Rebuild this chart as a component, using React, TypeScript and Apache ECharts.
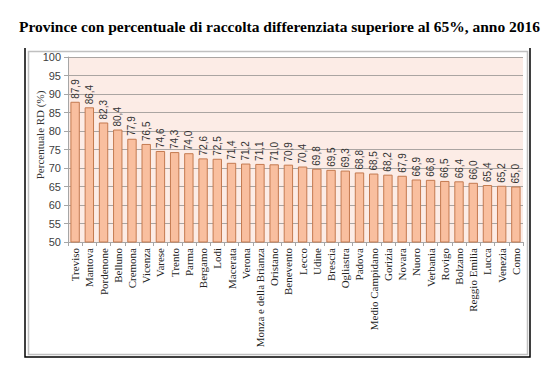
import React, { useEffect, useRef } from "react";
import * as echarts from "echarts";

const provinces = [
  "Treviso", "Mantova", "Pordenone", "Belluno", "Cremona", "Vicenza", "Varese", "Trento",
  "Parma", "Bergamo", "Lodi", "Macerata", "Verona", "Monza e della Brianza", "Oristano", "Benevento",
  "Lecco", "Udine", "Brescia", "Ogliastra", "Padova", "Medio Campidano", "Gorizia", "Novara",
  "Nuoro", "Verbania", "Rovigo", "Bolzano", "Reggio Emilia", "Lucca", "Venezia", "Como",
];
const rdValues = [
  87.9, 86.4, 82.3, 80.4, 77.9, 76.5, 74.6, 74.3,
  74.0, 72.6, 72.5, 71.4, 71.2, 71.1, 71.0, 70.9,
  70.4, 69.8, 69.5, 69.3, 68.8, 68.5, 68.2, 67.9,
  66.9, 66.8, 66.5, 66.4, 66.0, 65.4, 65.2, 65.0,
];
const titleText = "Province con percentuale di raccolta differenziata superiore al 65%, anno 2016";
const yAxisName = "Percentuale RD (%)";

export default function App() {
  const ref = useRef<HTMLDivElement>(null);
  useEffect(() => {
    if (!ref.current) return;
    const chart = echarts.init(ref.current, null, { renderer: "svg" });
    chart.setOption({
      animation: false,
      title: {
        text: titleText,
        left: "center",
        top: 13,
        textStyle: {
          fontFamily: "Liberation Serif",
          fontWeight: "bold",
          fontSize: 15.5,
          color: "#000",
        },
      },
      graphic: [
        {
          type: "rect",
          shape: { x: 28.5, y: 51.5, width: 499, height: 303 },
          style: { fill: "none", stroke: "#c0c0c0", lineWidth: 1.5 },
          silent: true,
        },
        {
          type: "polyline",
          shape: { points: [[25, 48], [25, 357], [530, 357], [530, 48]] },
          style: { fill: "none", stroke: "#000", lineWidth: 1.5 },
          silent: true,
        },
        {
          type: "text",
          x: 40,
          y: 135,
          rotation: Math.PI / 2,
          style: {
            text: yAxisName,
            font: "11px 'Liberation Serif'",
            fill: "#333",
            align: "center",
            verticalAlign: "middle",
          },
          silent: true,
        },
      ],
      grid: {
        left: 68,
        right: 36,
        top: 57,
        bottom: 139,
        show: true,
        backgroundColor: "#fcece6",
        borderWidth: 0,
      },
      xAxis: {
        type: "category",
        data: provinces,
        axisLine: { show: true, lineStyle: { color: "#a6a6a6" } },
        axisTick: { show: true, length: 4, lineStyle: { color: "#a6a6a6" } },
        axisLabel: {
          interval: 0,
          rotate: 90,
          margin: 6,
          fontFamily: "Liberation Serif",
          fontSize: 11,
          color: "#222",
        },
      },
      yAxis: {
        type: "value",
        min: 50,
        max: 100,
        interval: 5,
        axisLine: { show: true, lineStyle: { color: "#a6a6a6" } },
        axisTick: { show: true, length: 4, lineStyle: { color: "#a6a6a6" } },
        axisLabel: {
          fontFamily: "Liberation Sans",
          fontSize: 11,
          color: "#404040",
          margin: 7,
        },
        splitLine: { show: true, lineStyle: { color: "#aaa5a2", width: 1 } },
      },
      series: [
        {
          type: "bar",
          data: rdValues,
          barCategoryGap: "34%",
          itemStyle: {
            color: "#f9bf9f",
            borderColor: "#c47a50",
            borderWidth: 1,
          },
          label: {
            show: true,
            position: "top",
            rotate: 90,
            align: "left",
            verticalAlign: "middle",
            distance: 3,
            fontFamily: "Liberation Sans",
            fontSize: 10,
            color: "#333",
            formatter: (p: any) => Number(p.value).toFixed(1).replace(".", ","),
          },
        },
      ],
    });
    return () => chart.dispose();
  }, []);
  return (
    <div
      ref={ref}
      style={{ position: "fixed", left: 0, top: 0, width: 559, height: 381, background: "#fff" }}
    />
  );
}
